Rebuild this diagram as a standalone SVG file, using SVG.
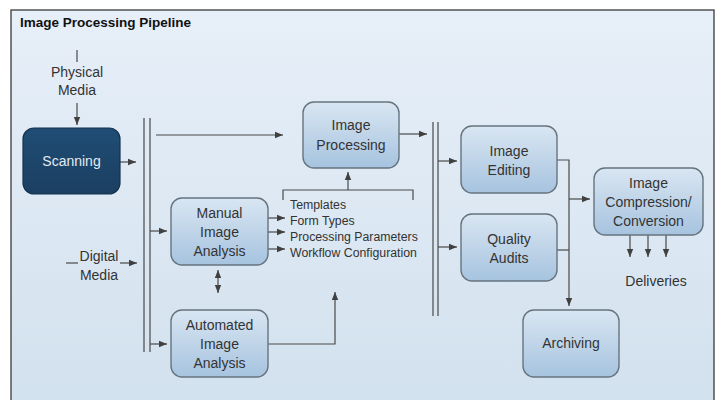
<svg xmlns="http://www.w3.org/2000/svg" width="717" height="400" viewBox="0 0 717 400">
<defs>
<linearGradient id="bg" x1="0" y1="0" x2="0" y2="1"><stop offset="0" stop-color="#e7eff8"/><stop offset="1" stop-color="#d2e1ee"/></linearGradient>
<linearGradient id="lb" x1="0" y1="0" x2="0" y2="1"><stop offset="0" stop-color="#d9e6f2"/><stop offset="1" stop-color="#a6c3df"/></linearGradient>
<linearGradient id="db" x1="0" y1="0" x2="0" y2="1"><stop offset="0" stop-color="#204d75"/><stop offset="1" stop-color="#1b3f61"/></linearGradient>
<marker id="ah" viewBox="0 0 10 10" refX="10" refY="5" markerWidth="8" markerHeight="8" markerUnits="userSpaceOnUse" orient="auto-start-reverse"><path d="M0,1 L10,5 L0,9 Z" fill="#404040"/></marker>
</defs>
<style>
.t{font-family:"Liberation Sans",Arial,sans-serif;fill:#333;font-size:14px;text-anchor:middle}
.s{font-family:"Liberation Sans",Arial,sans-serif;fill:#333;font-size:12.3px}
.box{fill:url(#lb);stroke:#66747f;stroke-width:1.4}
.c{fill:none;stroke:#4a4a4a;stroke-width:1.2}
.a{marker-end:url(#ah)}
</style>
<rect x="11" y="10" width="703" height="400" fill="url(#bg)" stroke="#3a3a3a" stroke-width="1.3"/>
<text x="20" y="27" font-family="Liberation Sans,Arial,sans-serif" font-weight="bold" font-size="13.5" fill="#111">Image Processing Pipeline</text>

<g id="connectors">
<path class="c" d="M77,50 V62"/>
<path class="c a" d="M77,103 V125"/>
<path class="c a" d="M120,162 H136"/>
<path class="c a" d="M156,135 H283"/>
<path class="c" d="M144,118 V352 M150,118 V352"/>
<path class="c a" d="M150,231 H167"/>
<path class="c a" d="M150,344 H167"/>
<path class="c" d="M66,263 H78"/>
<path class="c a" d="M120,263 H137"/>
<path class="c a" d="M218,270 V293" marker-start="url(#ah)"/>
<path class="c a" d="M268,218 H285"/>
<path class="c a" d="M268,232 H285"/>
<path class="c a" d="M268,249 H285"/>
<path class="c" d="M283,200 V190 H413 V200"/>
<path class="c a" d="M348,190 V172"/>
<path class="c a" d="M268,344 H335 V292"/>
<path class="c a" d="M399,134 H427"/>
<path class="c" d="M433,122 V316 M438,122 V316"/>
<path class="c a" d="M438,161 H457"/>
<path class="c a" d="M438,247 H457"/>
<path class="c a" d="M557,160 H569 V306"/>
<path class="c" d="M557,250 H569"/>
<path class="c a" d="M569,199 H590"/>
<path class="c a" d="M630,235 V257"/>
<path class="c a" d="M648,235 V257"/>
<path class="c a" d="M666,235 V257"/>
</g>

<g id="physical-media"><text class="t" x="77" y="77">Physical</text><text class="t" x="77" y="95">Media</text></g>
<g id="digital-media"><text class="t" x="99" y="261">Digital</text><text class="t" x="99" y="280">Media</text></g>

<g id="scanning"><rect x="23" y="128" width="97" height="66" rx="11" fill="url(#db)" stroke="#15324d" stroke-width="1.2"/><text class="t" x="71.5" y="166" style="fill:#e2ebf3">Scanning</text></g>

<g id="manual"><rect class="box" x="171" y="198" width="97" height="67" rx="11"/><text class="t" x="219.5" y="218">Manual</text><text class="t" x="219.5" y="237">Image</text><text class="t" x="219.5" y="256">Analysis</text></g>

<g id="automated"><rect class="box" x="171" y="310" width="97" height="67" rx="11"/><text class="t" x="219.5" y="330">Automated</text><text class="t" x="219.5" y="349">Image</text><text class="t" x="219.5" y="368">Analysis</text></g>

<g id="processing"><rect class="box" x="303" y="102" width="96" height="66" rx="11"/><text class="t" x="351" y="130">Image</text><text class="t" x="351" y="150">Processing</text></g>

<g id="params"><text class="s" x="290" y="209">Templates</text><text class="s" x="290" y="225">Form Types</text><text class="s" x="290" y="241">Processing Parameters</text><text class="s" x="290" y="257">Workflow Configuration</text></g>

<g id="editing"><rect class="box" x="461" y="126" width="96" height="67" rx="11"/><text class="t" x="509" y="156">Image</text><text class="t" x="509" y="175">Editing</text></g>

<g id="quality"><rect class="box" x="461" y="214" width="96" height="67" rx="11"/><text class="t" x="509" y="244">Quality</text><text class="t" x="509" y="263">Audits</text></g>

<g id="compression"><rect class="box" x="594" y="168" width="109" height="67" rx="11"/><text class="t" x="648.5" y="188">Image</text><text class="t" x="648.5" y="207">Compression/</text><text class="t" x="648.5" y="226">Conversion</text></g>

<g id="deliveries"><text class="t" x="656" y="286">Deliveries</text></g>

<g id="archiving"><rect class="box" x="523" y="310" width="96" height="67" rx="11"/><text class="t" x="571" y="348">Archiving</text></g>
</svg>
